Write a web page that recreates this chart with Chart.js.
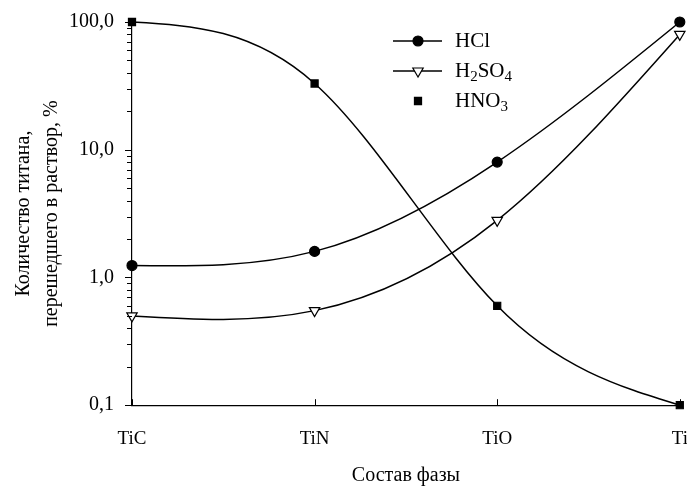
<!DOCTYPE html>
<html>
<head>
<meta charset="utf-8">
<script src="https://cdn.jsdelivr.net/npm/chart.js@4.4.1/dist/chart.umd.min.js"></script>
<style>
  html, body { margin: 0; padding: 0; background: #fff; }
  #wrap { width: 687px; height: 488px; }
</style>
</head>
<body>
<div id="wrap"><canvas id="chart"></canvas></div>
<script>
// Phase composition vs. titanium dissolved (log scale)
const phases = ['TiC', 'TiN', 'TiO', 'Ti'];
const hcl = [1.24, 1.6, 8.0, 100];
const h2so4 = [0.5, 0.55, 2.8, 80];
const hno3 = [100, 33, 0.6, 0.1];
const yTickValues = [0.1, 1, 10, 100];
const yTickLabels = ['0,1', '1,0', '10,0', '100,0'];

const FONT = "'Liberation Serif', 'Times New Roman', serif";

// legend entries: text parts [text, isSubscript]
const legendItems = [
  { parts: [['HCl', false]], line: true, ds: 0 },
  { parts: [['H', false], ['2', true], ['SO', false], ['4', true]], line: true, ds: 1 },
  { parts: [['HNO', false], ['3', true]], line: false, ds: 2 }
];

// smooth the lines like a natural cubic spline (control points only)
const naturalSpline = {
  id: 'naturalSpline',
  beforeDatasetsDraw(chart) {
    chart.data.datasets.forEach((ds, di) => {
      const meta = chart.getDatasetMeta(di);
      const line = meta.dataset;
      const pts = meta.data;
      const n = pts.length;
      if (!line || n < 3) return;
      line.updateControlPoints(chart.chartArea, 'x');
      const h = pts[1].x - pts[0].x;
      // tridiagonal system for s_i = slope * h
      const a = [], b = [], c = [], r = [];
      for (let i = 0; i < n; i++) {
        if (i === 0) { a[i] = 0; b[i] = 2; c[i] = 1; r[i] = 3 * (pts[1].y - pts[0].y); }
        else if (i === n - 1) { a[i] = 1; b[i] = 2; c[i] = 0; r[i] = 3 * (pts[i].y - pts[i - 1].y); }
        else { a[i] = 1; b[i] = 4; c[i] = 1; r[i] = 3 * (pts[i + 1].y - pts[i - 1].y); }
      }
      for (let i = 1; i < n; i++) {
        const m = a[i] / b[i - 1];
        b[i] -= m * c[i - 1];
        r[i] -= m * r[i - 1];
      }
      const s = [];
      s[n - 1] = r[n - 1] / b[n - 1];
      for (let i = n - 2; i >= 0; i--) s[i] = (r[i] - c[i] * s[i + 1]) / b[i];
      pts.forEach((p, i) => {
        p.cp1x = p.x - h / 3; p.cp1y = p.y - s[i] / 3;
        p.cp2x = p.x + h / 3; p.cp2y = p.y + s[i] / 3;
      });
      line._path = undefined;
    });
  }
};

const axisDecor = {
  id: 'axisDecor',
  afterDraw(chart) {
    const ctx = chart.ctx;
    const x = chart.scales.x, y = chart.scales.y;
    ctx.save();
    ctx.strokeStyle = '#000';
    ctx.lineWidth = 1;
    // y ticks (outward), longer at decades
    y.ticks.forEach(t => {
      const py = Math.round(y.getPixelForValue(t.value)) + 0.5;
      const major = yTickValues.some(v => Math.abs(v - t.value) / v < 1e-6);
      ctx.beginPath();
      ctx.moveTo(y.right - (major ? 7 : 5), py);
      ctx.lineTo(y.right, py);
      ctx.stroke();
    });
    // x ticks (inward)
    phases.forEach((p, i) => {
      const px = Math.round(x.getPixelForTick(i)) + 0.5;
      ctx.beginPath();
      ctx.moveTo(px, x.top);
      ctx.lineTo(px, x.top - 6);
      ctx.stroke();
    });

    // legend
    const lx = 393, ly = 41, rowH = 30;
    legendItems.forEach((item, i) => {
      const ds = chart.data.datasets[item.ds];
      const cy = ly + i * rowH;
      if (item.line) {
        ctx.lineWidth = 1.5;
        ctx.beginPath();
        ctx.moveTo(lx, cy);
        ctx.lineTo(lx + 49, cy);
        ctx.stroke();
      }
      ctx.fillStyle = ds.pointBackgroundColor;
      ctx.strokeStyle = '#000';
      ctx.lineWidth = ds.pointBorderWidth;
      Chart.helpers.drawPoint(ctx, {
        pointStyle: ds.pointStyle,
        rotation: ds.pointRotation || 0,
        radius: ds.pointRadius,
        borderWidth: ds.pointBorderWidth
      }, lx + 25, cy);
      let tx = lx + 62;
      ctx.fillStyle = '#000';
      ctx.textBaseline = 'middle';
      item.parts.forEach(([txt, sub]) => {
        ctx.font = (sub ? '15px ' : '21px ') + FONT;
        ctx.fillText(txt, tx, cy + (sub ? 6 : 0));
        tx += ctx.measureText(txt).width;
      });
    });
    ctx.restore();
  }
};

const lineStyle = {
  borderColor: '#000',
  borderWidth: 1.5,
  tension: 0.4,
  pointBorderColor: '#000',
  pointBorderWidth: 1.2,
  clip: false
};

new Chart(document.getElementById('chart'), {
  type: 'line',
  data: {
    labels: phases,
    datasets: [
      Object.assign({ label: 'HCl', data: hcl, pointStyle: 'circle', pointRadius: 5,
        pointBackgroundColor: '#000' }, lineStyle),
      Object.assign({ label: 'H2SO4', data: h2so4, pointStyle: 'triangle', pointRotation: 180,
        pointRadius: 6, pointBackgroundColor: '#fff' }, lineStyle),
      Object.assign({ label: 'HNO3', data: hno3, pointStyle: 'rect', pointRadius: 5,
        pointBackgroundColor: '#000' }, lineStyle)
    ]
  },
  options: {
    responsive: true,
    maintainAspectRatio: false,
    animation: false,
    layout: { padding: { top: 12, right: 7, left: 10, bottom: 0 } },
    plugins: { legend: { display: false }, tooltip: { enabled: false } },
    scales: {
      x: {
        offset: false,
        grid: { display: false },
        border: { display: true, color: '#000', width: 1.2 },
        afterFit(scale) { scale.paddingRight = 0; scale.paddingLeft = 0; },
        ticks: { color: '#000', padding: 14, font: { family: FONT, size: 19 } },
        title: { display: true, text: 'Состав фазы', color: '#000', padding: { top: 0, bottom: 0 },
          font: { family: FONT, size: 20 } }
      },
      y: {
        type: 'logarithmic',
        min: 0.1,
        max: 100,
        grid: { display: false },
        border: { display: true, color: '#000', width: 1.2 },
        afterBuildTicks(scale) {
          const t = [];
          for (let d = 0.1; d < 100; d *= 10) {
            for (let k = 1; k < 10; k++) t.push({ value: +(d * k).toPrecision(3) });
          }
          t.push({ value: 100 });
          scale.ticks = t;
        },
        ticks: {
          autoSkip: false,
          color: '#000',
          padding: 10,
          font: { family: FONT, size: 20 },
          callback(v) {
            const i = yTickValues.findIndex(x => Math.abs(x - v) / x < 1e-6);
            return i >= 0 ? yTickLabels[i] : '';
          }
        },
        title: { display: true, text: ['Количество титана,', 'перешедшего в раствор, %'],
          color: '#000', padding: { top: 0, bottom: -7 }, font: { family: FONT, size: 20, lineHeight: 1.4 } }
      }
    }
  },
  plugins: [naturalSpline, axisDecor]
});
</script>
</body>
</html>
